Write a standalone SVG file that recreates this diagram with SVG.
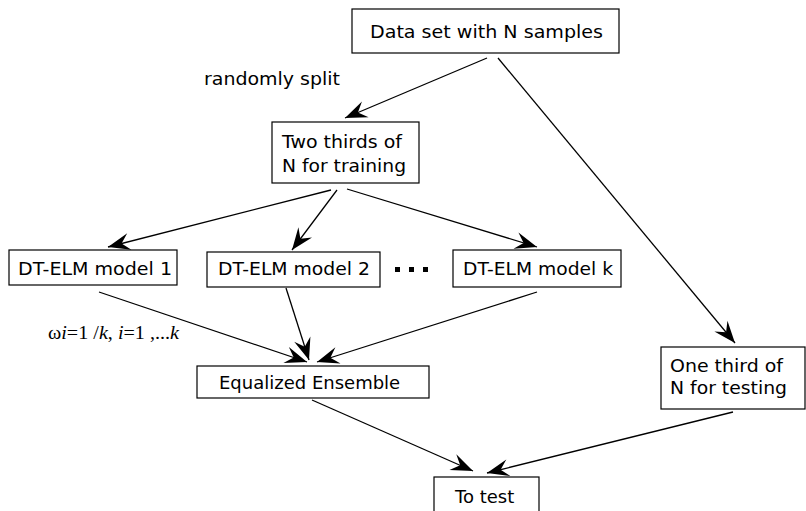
<svg xmlns="http://www.w3.org/2000/svg" width="806" height="511" viewBox="0 0 806 511">
<style>
.box{fill:#fff;stroke:#000;stroke-width:1.2}
.t{font-family:"DejaVu Sans",sans-serif;font-size:18px;fill:#000}
.f{font-family:"Liberation Serif","DejaVu Serif",serif;font-size:18px;fill:#000}
.c{stroke:#000;stroke-width:1.3;fill:none;marker-end:url(#ah)}
</style>
<defs>
<marker id="ah" markerUnits="userSpaceOnUse" markerWidth="26" markerHeight="20" viewBox="-23 -10 25 20" refX="0" refY="0" orient="auto">
<path d="M0,0 L-22,-8.5 L-14,0 L-22,8.5 Z" fill="#000"/>
</marker>
</defs>
<rect width="806" height="511" fill="#fff"/>
<g id="connectors">
<line class="c" x1="487" y1="58" x2="345" y2="118"/>
<line class="c" x1="498" y1="58" x2="735" y2="343"/>
<line class="c" x1="331" y1="190" x2="108" y2="247"/>
<line class="c" x1="337" y1="190" x2="292" y2="250"/>
<line class="c" x1="347" y1="189" x2="537" y2="247"/>
<line class="c" x1="99" y1="292" x2="307" y2="362"/>
<line class="c" x1="286" y1="288" x2="309" y2="360"/>
<line class="c" x1="537" y1="292" x2="317" y2="362"/>
<line class="c" x1="312" y1="400" x2="473" y2="471"/>
<line class="c" x1="733" y1="412" x2="487" y2="473"/>
</g>
<g id="data">
<rect class="box" x="352" y="9" width="267" height="44"/>
<text class="t" x="370" y="38" textLength="233" lengthAdjust="spacingAndGlyphs">Data set with N samples</text>
</g>
<g id="split-label">
<text class="t" x="204" y="85" textLength="136" lengthAdjust="spacingAndGlyphs">randomly split</text>
</g>
<g id="train">
<rect class="box" x="272" y="122" width="147" height="61"/>
<text class="t" x="282" y="148" textLength="120" lengthAdjust="spacingAndGlyphs">Two thirds of</text>
<text class="t" x="282" y="172" textLength="124" lengthAdjust="spacingAndGlyphs">N for training</text>
</g>
<g id="m1">
<rect class="box" x="9" y="250" width="168" height="35"/>
<text class="t" x="18" y="275" textLength="154" lengthAdjust="spacingAndGlyphs">DT-ELM model 1</text>
</g>
<g id="m2">
<rect class="box" x="207" y="252" width="173" height="35"/>
<text class="t" x="218" y="275" textLength="152" lengthAdjust="spacingAndGlyphs">DT-ELM model 2</text>
</g>
<g id="dots">
<rect x="395" y="267" width="5" height="5" fill="#000"/>
<rect x="409" y="267" width="5" height="5" fill="#000"/>
<rect x="423" y="267" width="5" height="5" fill="#000"/>
</g>
<g id="mk">
<rect class="box" x="453" y="250" width="168" height="37"/>
<text class="t" x="463" y="275" textLength="150" lengthAdjust="spacingAndGlyphs">DT-ELM model k</text>
</g>
<g id="weights">
<text class="f" x="48" y="339" textLength="131" lengthAdjust="spacingAndGlyphs">ω<tspan font-style="italic">i</tspan>=1 /<tspan font-style="italic">k</tspan>, <tspan font-style="italic">i</tspan>=1 ,...<tspan font-style="italic">k</tspan></text>
</g>
<g id="ensemble">
<rect class="box" x="197" y="366" width="232" height="32"/>
<text class="t" x="219" y="389">Equalized Ensemble</text>
</g>
<g id="test-set">
<rect class="box" x="661" y="347" width="144" height="62"/>
<text class="t" x="670" y="372" textLength="113" lengthAdjust="spacingAndGlyphs">One third of</text>
<text class="t" x="670" y="394" textLength="117" lengthAdjust="spacingAndGlyphs">N for testing</text>
</g>
<g id="totest">
<rect class="box" x="434" y="477" width="105" height="40"/>
<text class="t" x="455" y="503">To test</text>
</g>
</svg>
